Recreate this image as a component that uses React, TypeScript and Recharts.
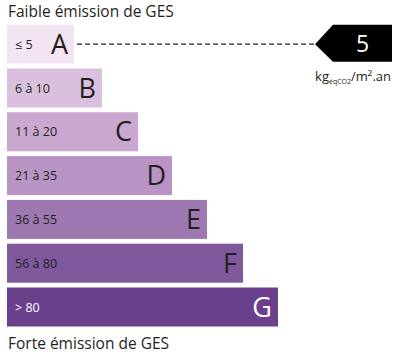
import React from 'react';
import { BarChart, Bar, XAxis, YAxis } from 'recharts';

const classes = ['A', 'B', 'C', 'D', 'E', 'F', 'G'];
const ranges = ['≤ 5', '6 à 10', '11 à 20', '21 à 35', '36 à 55', '56 à 80', '> 80'];
const barLengths = [67, 95, 131, 165, 200, 236, 271];
const colors = ['#f2e4f0', '#d9c1de', '#c9a7ce', '#b893c3', '#9e79b1', '#80589c', '#6a408c'];
const currentValue = 5;
const currentClass = 'A';
const topTitle = 'Faible émission de GES';
const bottomTitle = 'Forte émission de GES';

const FONT = '"Open Sans", "Noto Sans", sans-serif';

const data = classes.map((c, i) => ({ cls: c, range: ranges[i], len: barLengths[i], color: colors[i] }));

const BarShape = (props: any) => {
  const { x, y, width, height, payload, index } = props;
  const dark = index === classes.length - 1;
  const txt = dark ? '#ffffff' : '#231f20';
  const cy = y + height / 2;
  const isCur = payload.cls === currentClass;
  const tipX = 315;
  const bodyX = 333;
  const rightX = 392;
  return (
    <g>
      <rect x={x} y={y} width={width} height={height} fill={payload.color} />
      <text x={x + 8} y={cy} dominantBaseline="central" fontSize={12.5} fill={txt} fontFamily={FONT}>
        {payload.range}
      </text>
      <text x={x + width - 6} y={cy - 1} textAnchor="end" dominantBaseline="central" fontSize={27} fill={txt} fontFamily={FONT}>
        {payload.cls}
      </text>
      {isCur && (
        <g>
          <line x1={x + width + 3} x2={tipX} y1={cy} y2={cy} stroke="#222" strokeWidth={1.3} strokeDasharray="5 3" />
          <polygon
            points={`${tipX},${cy} ${bodyX},${y} ${rightX},${y} ${rightX},${y + height - 2} ${bodyX},${y + height - 2}`}
            fill="#000"
          />
          <text x={(bodyX + rightX) / 2} y={cy - 1} textAnchor="middle" dominantBaseline="central" fontSize={23} fill="#fff" fontFamily={FONT}>
            {currentValue}
          </text>
          <text x={rightX - 1} y={y + height + 17} textAnchor="end" fontSize={13} fill="#231f20" fontFamily={FONT}>
            kg
            <tspan fontSize={7} dy={3}>éqCO2</tspan>
            <tspan dy={-3}>/m².an</tspan>
          </text>
        </g>
      )}
    </g>
  );
};

export default function App() {
  return (
    <div style={{ position: 'absolute', left: 0, top: 0, width: 400, height: 354, background: '#fff', fontFamily: FONT }}>
      <div style={{ position: 'absolute', left: 8, top: 0, fontSize: 15.5, color: '#231f20', lineHeight: '22px' }}>{topTitle}</div>
      <div style={{ position: 'absolute', left: 8, top: 332, fontSize: 15.5, color: '#231f20', lineHeight: '22px' }}>{bottomTitle}</div>
      <BarChart
        width={400}
        height={354}
        data={data}
        layout="vertical"
        margin={{ top: 22.7, right: 0, bottom: 24.7, left: 7 }}
        barCategoryGap={0}
      >
        <XAxis type="number" domain={[0, 393]} hide />
        <YAxis type="category" dataKey="cls" hide />
        <Bar dataKey="len" barSize={39} isAnimationActive={false} shape={BarShape} />
      </BarChart>
    </div>
  );
}
